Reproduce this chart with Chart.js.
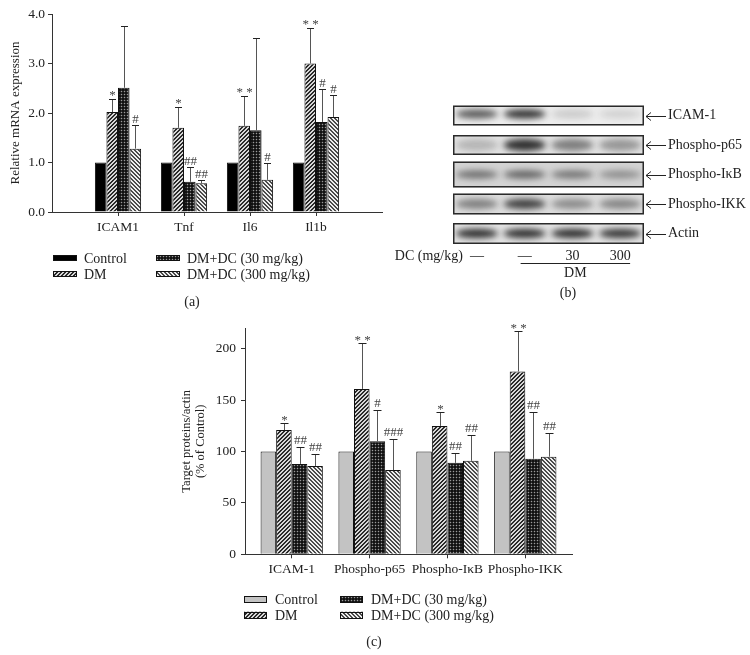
<!DOCTYPE html>
<html><head><meta charset="utf-8">
<script src="https://cdn.jsdelivr.net/npm/chart.js@4.4.1/dist/chart.umd.min.js"></script>
<style>
html,body{margin:0;padding:0;background:#fff;width:750px;height:655px;overflow:hidden;position:relative;}
canvas{position:absolute;}
.cap{position:absolute;font:14px "Liberation Serif",serif;color:#222;transform:translate(-50%,-50%);white-space:nowrap;}
</style></head><body>
<canvas id="ca" width="400" height="310" style="left:0px;top:0px"></canvas>
<canvas id="cb" width="360" height="215" style="left:390px;top:90px"></canvas>
<canvas id="cc" width="430" height="335" style="left:170px;top:320px"></canvas>
<div class="cap" style="left:192px;top:302px">(a)</div>
<div class="cap" style="left:568px;top:293px">(b)</div>
<div class="cap" style="left:374px;top:642px">(c)</div>
<script>
// ---------- shared ----------
const SERIES = ['Control', 'DM', 'DM+DC (30 mg/kg)', 'DM+DC (300 mg/kg)'];

// ---------- panel (a): relative mRNA expression ----------
const genesA = ['ICAM1', 'Tnf', 'Il6', 'Il1b'];
const aControl = [1.00, 1.00, 1.00, 1.00];
const aDM      = [2.02, 1.70, 1.74, 3.00];
const aDC30    = [2.51, 0.61, 1.65, 1.82];
const aDC300   = [1.28, 0.58, 0.65, 1.92];
const aControlSD = [0, 0, 0, 0];
const aDMSD      = [0.26, 0.43, 0.60, 0.72];
const aDC30SD    = [1.25, 0.29, 1.87, 0.66];
const aDC300SD   = [0.48, 0.06, 0.35, 0.45];
const aControlSig = ['', '', '', ''];
const aDMSig      = ['*', '*', '* *', '* *'];
const aDC30Sig    = ['', '##', '', '#'];
const aDC300Sig   = ['#', '##', '#', '#'];

// ---------- panel (b): western blot ----------
const blotProteins = ['ICAM-1', 'Phospho-p65', 'Phospho-I\u03BAB', 'Phospho-IKK', 'Actin'];
const blotLanes = ['\u2014', '\u2014', '30', '300'];
const bandICAM  = [0.70, 0.90, 0.16, 0.12];
const bandP65   = [0.22, 0.90, 0.50, 0.38];
const bandIkB   = [0.55, 0.62, 0.52, 0.38];
const bandIKK   = [0.48, 0.82, 0.42, 0.45];
const bandActin = [0.92, 0.92, 0.92, 0.88];

// ---------- panel (c): target proteins / actin ----------
const protC = ['ICAM-1', 'Phospho-p65', 'Phospho-I\u03BAB', 'Phospho-IKK'];
const cControl = [100, 100, 100, 100];
const cDM      = [121, 161, 125, 178];
const cDC30    = [88, 110, 89, 93];
const cDC300   = [86, 82, 91, 95];
const cControlSD = [0, 0, 0, 0];
const cDMSD      = [7, 45, 14, 39];
const cDC30SD    = [16, 30, 10, 46];
const cDC300SD   = [12, 30, 25, 23];
const cControlSig = ['', '', '', ''];
const cDMSig      = ['*', '* *', '*', '* *'];
const cDC30Sig    = ['##', '#', '##', '##'];
const cDC300Sig   = ['##', '###', '##', '##'];

Chart.defaults.font.family = '"Liberation Serif", "Times New Roman", serif';
Chart.defaults.color = '#222';

function tile(size, fn) {
  const c = document.createElement('canvas');
  c.width = size; c.height = size;
  const g = c.getContext('2d');
  for (let x = 0; x < size; x++) for (let y = 0; y < size; y++) {
    g.fillStyle = fn(x, y); g.fillRect(x, y, 1, 1);
  }
  return g.createPattern(c, 'repeat');
}
const patFwd  = tile(4, (x, y) => ((x + y) % 4 < 2 ? '#2a2a2a' : '#d8d8d8'));
const patChk  = tile(3, (x, y) => ((x === 1 && y === 1) ? '#9a9a9a' : (x + y) % 2 ? '#2b2b2b' : '#111'));
const patBack = tile(4, (x, y) => ((x - y + 8) % 4 < 2 ? '#4a4a4a' : '#eeeeee'));

function bars(vals, sds, sigs) {
  return { data: vals.map((v, i) => ({ x: i, y: v })), sd: sds, sig: sigs };
}
function noPad(s) { s.paddingTop = 0; s.paddingBottom = 0; s.paddingLeft = 0; s.paddingRight = 0; }

const errPlugin = {
  id: 'errbars',
  afterDatasetsDraw(chart, args, o) {
    const ctx = chart.ctx, ys = chart.scales.y;
    chart.data.datasets.forEach((ds, di) => {
      const meta = chart.getDatasetMeta(di);
      meta.data.forEach((bar, i) => {
        const v = ds.data[i].y, sd = ds.sd[i];
        let top = bar.y;
        const bx = Math.round(bar.x) + 0.5;
        if (sd > 0) {
          const yt = Math.round(ys.getPixelForValue(v + sd)) + 0.5;
          ctx.save();
          ctx.lineWidth = 1;
          ctx.strokeStyle = o.color;
          ctx.beginPath(); ctx.moveTo(bx, bar.y); ctx.lineTo(bx, yt); ctx.stroke();
          ctx.strokeStyle = o.capColor;
          ctx.beginPath(); ctx.moveTo(bx - o.cap / 2, yt); ctx.lineTo(bx + o.cap / 2, yt); ctx.stroke();
          ctx.restore();
          top = yt;
        }
        const s = ds.sig[i];
        if (s) {
          ctx.save();
          ctx.font = o.font; ctx.fillStyle = o.sigColor;
          ctx.textAlign = 'center'; ctx.textBaseline = 'alphabetic';
          ctx.fillText(s, bx, top - (s[0] === '*' ? o.starGap : o.hashGap));
          ctx.restore();
        }
      });
    });
  }
};

const gridLegend = {
  id: 'gridLegend',
  afterDraw(chart, args, o) {
    const ctx = chart.ctx;
    chart.data.datasets.forEach((ds, k) => {
      const col = Math.floor(k / 2), row = k % 2;
      const x = o.x + col * o.colGap, y = o.y + row * o.rowGap;
      ctx.save();
      ctx.fillStyle = ds.backgroundColor;
      ctx.fillRect(x, y - o.h / 2, o.w, o.h);
      ctx.strokeStyle = '#111'; ctx.lineWidth = 1;
      ctx.strokeRect(x + 0.5, Math.round(y - o.h / 2) + 0.5, o.w - 1, o.h - 1);
      ctx.fillStyle = '#222'; ctx.font = o.font;
      ctx.textAlign = 'left'; ctx.textBaseline = 'middle';
      ctx.fillText(ds.label, x + o.textGap, y + 1);
      ctx.restore();
    });
  }
};

function barChart(id, cats, dsets, cfg) {
  return new Chart(document.getElementById(id), {
    type: 'bar',
    data: {
      datasets: dsets.map((d, k) => ({
        label: SERIES[k],
        data: d.data, sd: d.sd, sig: d.sig,
        backgroundColor: cfg.fills[k],
        borderColor: '#111', borderWidth: 1,
        categoryPercentage: cfg.catPct, barPercentage: 1.0
      }))
    },
    options: {
      responsive: false, animation: false, devicePixelRatio: 1,
      layout: { padding: cfg.padding, autoPadding: false },
      plugins: {
        legend: { display: false }, tooltip: { enabled: false },
        errbars: { color: '#555', capColor: '#222', cap: cfg.cap, font: '13px "Liberation Serif", serif', sigColor: '#444', starGap: cfg.starGap, hashGap: cfg.hashGap },
        gridLegend: cfg.legend
      },
      scales: {
        x: {
          type: 'linear', min: cfg.xmin, max: cfg.xmax, offset: false,
          afterBuildTicks: s => { s.ticks = cats.map((c, i) => ({ value: i })); },
          afterFit: s => { s.height = cfg.xHeight; noPad(s); },
          ticks: { callback: v => cats[Math.round(v)], autoSkip: false, maxRotation: 0, padding: 3, font: { size: 13.5 }, color: '#222' },
          grid: { display: true, offset: false, drawOnChartArea: false, drawTicks: true, tickLength: 4, color: '#333' },
          border: { display: true, color: '#333', width: 1 }
        },
        y: {
          min: 0, max: cfg.ymax,
          afterBuildTicks: s => { s.ticks = s.ticks.filter(t => Math.abs(t.value / cfg.step - Math.round(t.value / cfg.step)) < 1e-6); },
          afterFit: s => { s.width = cfg.yWidth; noPad(s); },
          ticks: { stepSize: cfg.step, callback: cfg.yfmt, padding: cfg.yPad, font: { size: 13.5 }, color: '#222' },
          grid: { display: true, drawOnChartArea: false, drawTicks: true, tickLength: 4, color: '#333' },
          border: { display: true, color: '#333', width: 1 },
          title: { display: true, text: cfg.ytitle, font: { size: cfg.ytitleSize, lineHeight: 1.1 }, color: '#222', padding: cfg.ytitlePad }
        }
      }
    },
    plugins: [errPlugin, gridLegend]
  });
}

// panel (a)
barChart('ca', genesA, [
  bars(aControl, aControlSD, aControlSig),
  bars(aDM, aDMSD, aDMSig),
  bars(aDC30, aDC30SD, aDC30Sig),
  bars(aDC300, aDC300SD, aDC300Sig)
], {
  fills: ['#000000', patFwd, patChk, patBack],
  catPct: 0.70, cap: 7, starGap: 1, hashGap: 3,
  padding: { top: 14, left: 0, right: 18, bottom: 0 },
  xmin: -1, xmax: 4, xHeight: 98, ymax: 4, step: 1, yfmt: v => v.toFixed(1),
  yWidth: 52, yPad: 3, ytitle: 'Relative mRNA expression', ytitleSize: 13, ytitlePad: { top: 8, bottom: 0 },
  legend: { x: 53, y: 258, colGap: 103, rowGap: 16, w: 24, h: 6, textGap: 31, font: '14px "Liberation Serif", serif' }
});

// panel (c)
barChart('cc', protC, [
  bars(cControl, cControlSD, cControlSig),
  bars(cDM, cDMSD, cDMSig),
  bars(cDC30, cDC30SD, cDC30Sig),
  bars(cDC300, cDC300SD, cDC300Sig)
], {
  fills: ['#c3c3c3', patFwd, patChk, patBack],
  catPct: 0.80, cap: 8, starGap: 0, hashGap: 4,
  padding: { top: 8.3, left: 0, right: 28, bottom: 0 },
  xmin: -0.6, xmax: 3.6, xHeight: 100.7, ymax: 220, step: 50, yfmt: v => String(v),
  yWidth: 75, yPad: 5, ytitle: ['Target proteins/actin', '(% of Control)'], ytitleSize: 12.5, ytitlePad: { top: 10, bottom: 0 },
  legend: { x: 74, y: 279.5, colGap: 96, rowGap: 15.7, w: 23, h: 7, textGap: 31, font: '14px "Liberation Serif", serif' }
});

// panel (b): blot
const blotBands = [bandICAM, bandP65, bandIkB, bandIKK, bandActin];
const blotPlugin = {
  id: 'blot',
  beforeDatasetsDraw(chart, args, o) {
    const ctx = chart.ctx, xs = chart.scales.x, ys = chart.scales.y, ca = chart.chartArea;
    const lw = xs.getPixelForValue(1) - xs.getPixelForValue(0);
    chart.data.datasets.forEach((ds, r) => {
      const yc = ys.getPixelForValue(r), h = o.heights[r], top = yc - h / 2;
      ctx.save();
      ctx.fillStyle = o.bg[r];
      ctx.fillRect(ca.left, top, ca.right - ca.left, h);
      ctx.beginPath(); ctx.rect(ca.left, top, ca.right - ca.left, h); ctx.clip();
      ctx.filter = 'blur(3px)';
      ds.data.forEach(p => {
        const xc = xs.getPixelForValue(p.x);
        ctx.fillStyle = 'rgba(28,28,28,' + p.v + ')';
        ctx.beginPath();
        ctx.ellipse(xc, yc + o.dy[r], lw * 0.44, o.bandH[r], 0, 0, Math.PI * 2);
        ctx.fill();
      });
      ctx.restore();
      ctx.save();
      ctx.strokeStyle = '#2a2a2a'; ctx.lineWidth = 1.5;
      ctx.strokeRect(ca.left + 0.75, top + 0.75, ca.right - ca.left - 1.5, h - 1.5);
      // arrow pointing to blot
      const ax0 = ca.right + 2, ax1 = ca.right + 22, yy = Math.round(yc) + 0.5;
      ctx.strokeStyle = '#222'; ctx.lineWidth = 1;
      ctx.beginPath();
      ctx.moveTo(ax0, yy); ctx.lineTo(ax1, yy);
      ctx.moveTo(ax0 + 5, yy - 4); ctx.lineTo(ax0, yy); ctx.lineTo(ax0 + 5, yy + 4);
      ctx.stroke();
      ctx.restore();
    });
  },
  afterDraw(chart, args, o) {
    const ctx = chart.ctx, xs = chart.scales.x, ca = chart.chartArea;
    ctx.save();
    ctx.font = '14px "Liberation Serif", serif'; ctx.fillStyle = '#222';
    ctx.textBaseline = 'middle'; ctx.textAlign = 'right';
    ctx.fillText('DC (mg/kg)', xs.getPixelForValue(0) - 14, ca.bottom + 8);
    const l = xs.getPixelForValue(1) - 4, rgt = xs.getPixelForValue(3) + 10;
    const ly = Math.round(ca.bottom + 15) + 0.5;
    ctx.strokeStyle = '#222'; ctx.lineWidth = 1;
    ctx.beginPath(); ctx.moveTo(l, ly); ctx.lineTo(rgt, ly); ctx.stroke();
    ctx.textAlign = 'center';
    ctx.fillText('DM', (l + rgt) / 2, ca.bottom + 25.5);
    ctx.restore();
  }
};

new Chart(document.getElementById('cb'), {
  type: 'scatter',
  data: {
    datasets: blotProteins.map((p, r) => ({
      label: p,
      data: blotLanes.map((ln, l) => ({ x: l, y: r, v: blotBands[r][l] })),
      pointRadius: 0
    }))
  },
  options: {
    responsive: false, animation: false, devicePixelRatio: 1,
    layout: { padding: { top: 10.75, left: 63, right: 0, bottom: 0 }, autoPadding: false },
    plugins: {
      legend: { display: false }, tooltip: { enabled: false },
      blot: {
        heights: [20, 20, 26, 21, 21],
        bg: ['#ededed', '#e2e2e2', '#d3d3d3', '#dddddd', '#e3e3e3'],
        bandH: [4.5, 6, 4, 5, 4.5],
        dy: [-1.5, 0, 0, 0, 0]
      }
    },
    scales: {
      x: {
        type: 'category', labels: blotLanes, offset: true,
        afterFit: s => { s.height = 56.75; noPad(s); },
        ticks: { padding: 0, font: { size: 14 }, color: '#222', autoSkip: false, maxRotation: 0 },
        grid: { display: false, drawTicks: false }, border: { display: false }
      },
      y: {
        type: 'category', labels: blotProteins, position: 'right', offset: true,
        afterFit: s => { s.width = 106; noPad(s); },
        ticks: { padding: 24, font: { size: 14 }, color: '#222', autoSkip: false },
        grid: { display: false, drawTicks: false }, border: { display: false }
      }
    }
  },
  plugins: [blotPlugin]
});
</script>
</body></html>
